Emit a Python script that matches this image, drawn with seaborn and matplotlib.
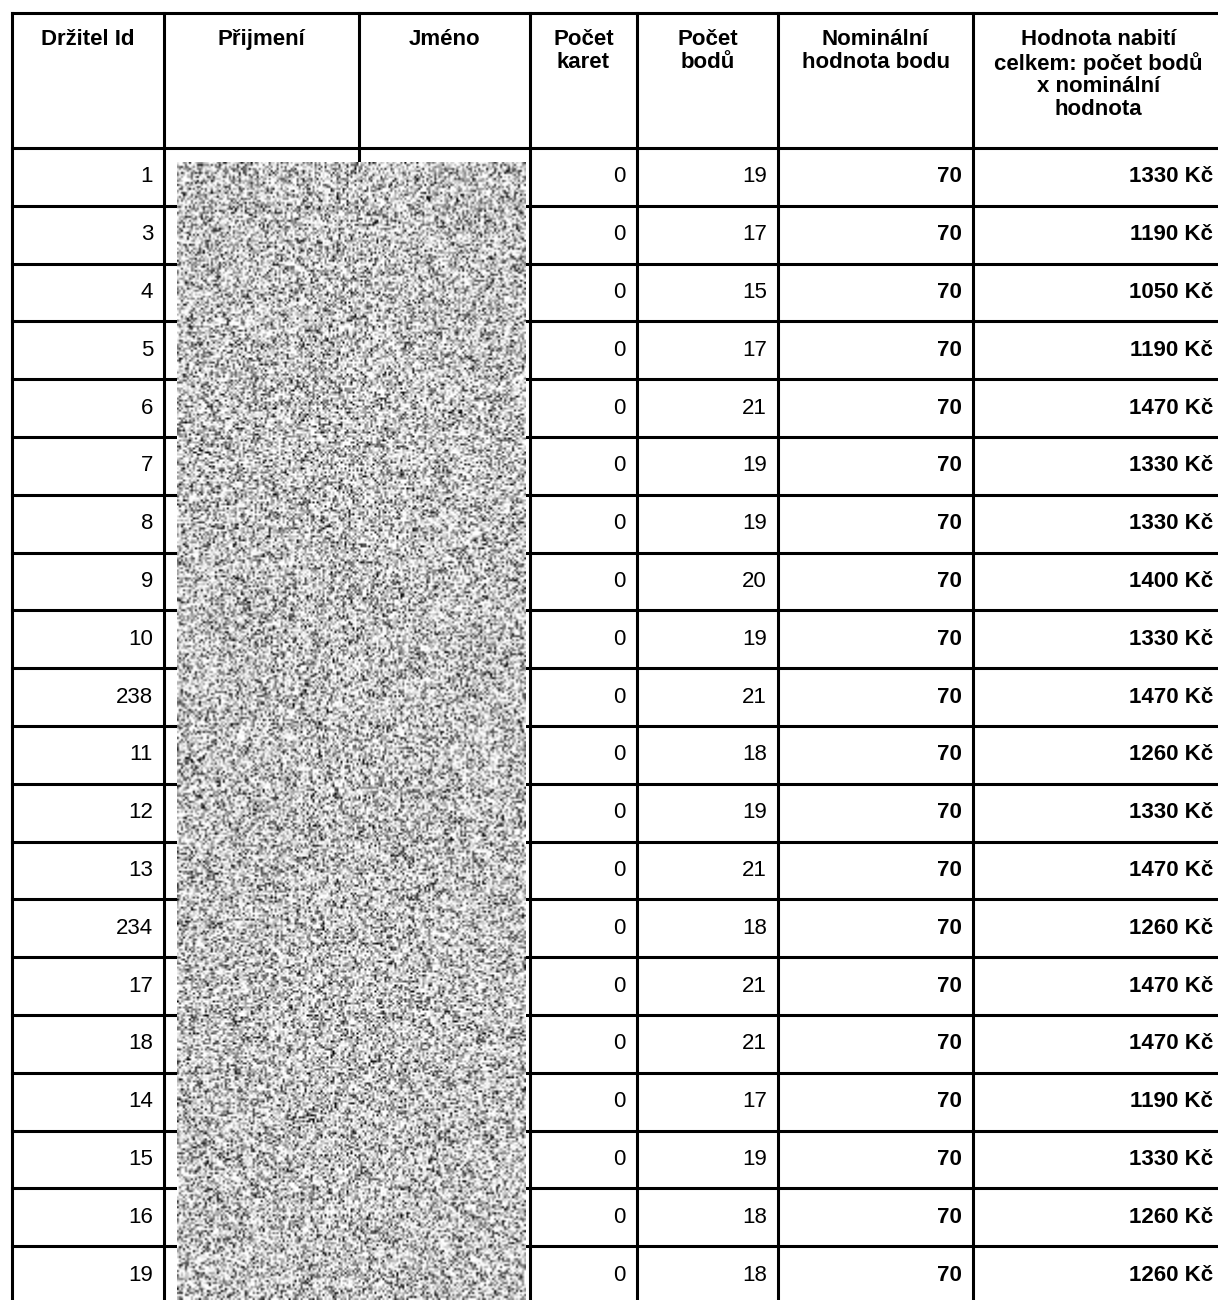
import numpy as np
import matplotlib
matplotlib.use('Agg')
import matplotlib.pyplot as plt
import seaborn as sns

# Table data
holder_ids = [1, 3, 4, 5, 6, 7, 8, 9, 10, 238, 11, 12, 13, 234, 17, 18, 14, 15, 16, 19]
card_counts = [0] * 20
point_counts = [19, 17, 15, 17, 21, 19, 19, 20, 19, 21, 18, 19, 21, 18, 21, 21, 17, 19, 18, 18]
point_values = [70] * 20
charge_totals = [1330, 1190, 1050, 1190, 1470, 1330, 1330, 1400, 1330, 1470,
                 1260, 1330, 1470, 1260, 1470, 1470, 1190, 1330, 1260, 1260]
headers = ['Držitel Id', 'Přijmení', 'Jméno', 'Počet\nkaret', 'Počet\nbodů',
           'Nominální\nhodnota bodu', 'Hodnota nabití\ncelkem: počet bodů\nx nominální\nhodnota']

# Layout (pixels)
W, H = 1218, 1300
col_edges = [12, 164, 359, 530, 637, 778, 973, 1224]
top, head_bottom, row_h = 13, 148, 57.8

sns.set_theme(style='white')
plt.rcParams['font.family'] = ['Liberation Sans', 'DejaVu Sans']
plt.rcParams['text.color'] = 'black'

fig = plt.figure(figsize=(W / 100, H / 100), dpi=100)
ax = fig.add_axes([0, 0, 1, 1])
ax.set_xlim(0, W)
ax.set_ylim(H, 0)
ax.axis('off')

n = len(holder_ids)
lw = 2.2
row_tops = [head_bottom + i * row_h for i in range(n + 1)]

# grid lines
for y in [top, head_bottom] + row_tops[1:]:
    if y < H + 5:
        ax.plot([col_edges[0], col_edges[-1]], [y, y], color='black', lw=lw, solid_capstyle='projecting')
for x in col_edges:
    ax.plot([x, x], [top, H + 5], color='black', lw=lw, solid_capstyle='projecting')

# header text
for i, h in enumerate(headers):
    cx = (col_edges[i] + col_edges[i + 1]) / 2
    ax.text(cx, 29, h, ha='center', va='top', fontsize=16, fontweight='bold',
            linespacing=1.1)

# body text
columns = [
    ([str(v) for v in holder_ids], 0, 'normal'),
    ([str(v) for v in card_counts], 3, 'normal'),
    ([str(v) for v in point_counts], 4, 'normal'),
    ([str(v) for v in point_values], 5, 'bold'),
    ([f'{v} Kč' for v in charge_totals], 6, 'bold'),
]
for vals, ci, weight in columns:
    for r, v in enumerate(vals):
        cy = row_tops[r] + row_h / 2
        ax.text(col_edges[ci + 1] - 11, cy, v, ha='right', va='center',
                fontsize=16, fontweight=weight)

# redaction texture over the name columns (visual texture, not data)
rng = np.random.default_rng(7)
tex = rng.random((570, 175)) ** 0.45
ax.imshow(tex, cmap='gray', extent=[177, 526, H, 162], interpolation='bilinear',
          vmin=0.1, vmax=0.88, zorder=5, aspect='auto')
ax.set_xlim(0, W)
ax.set_ylim(H, 0)

fig.savefig('out.png', dpi=100, facecolor='white')
